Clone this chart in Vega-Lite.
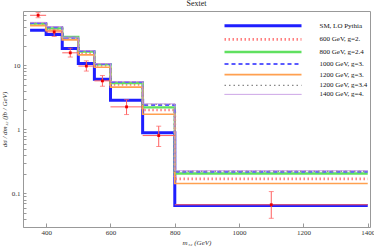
{
  "$schema": "https://vega.github.io/schema/vega-lite/v6.json",
  "autosize": {"type": "none"},
  "width": 347,
  "height": 216,
  "padding": {"left": 23, "top": 11, "right": 4, "bottom": 23},
  "background": "white",
  "title": {"text": "Sextet", "font": "Liberation Serif", "fontSize": 8, "fontWeight": "normal", "anchor": "middle", "offset": 3, "color": "#222"},
  "config": {
    "view": {"stroke": "#999", "strokeWidth": 1},
    "axis": {"domain": false, "grid": false, "labelFont": "Liberation Serif", "labelFontSize": 7, "labelColor": "#333", "titleFont": "Liberation Serif", "titleFontSize": 7, "titleFontWeight": "normal", "titleColor": "#333", "tickColor": "#999"}
  },
  "datasets": {
    "curves": [
      {"series": "SM, LO Pythia", "m": 350, "v": 35.2}, {"series": "SM, LO Pythia", "m": 400, "v": 30.2}, {"series": "SM, LO Pythia", "m": 450, "v": 18.2}, {"series": "SM, LO Pythia", "m": 500, "v": 10.6}, {"series": "SM, LO Pythia", "m": 550, "v": 6.05}, {"series": "SM, LO Pythia", "m": 600, "v": 2.84}, {"series": "SM, LO Pythia", "m": 700, "v": 0.887}, {"series": "SM, LO Pythia", "m": 800, "v": 0.065}, {"series": "SM, LO Pythia", "m": 1400, "v": 0.065},
      {"series": "600 GeV, g=2.", "m": 350, "v": 43.5}, {"series": "600 GeV, g=2.", "m": 400, "v": 36.5}, {"series": "600 GeV, g=2.", "m": 450, "v": 26}, {"series": "600 GeV, g=2.", "m": 500, "v": 15.5}, {"series": "600 GeV, g=2.", "m": 550, "v": 9.9}, {"series": "600 GeV, g=2.", "m": 600, "v": 5.0}, {"series": "600 GeV, g=2.", "m": 700, "v": 2.0}, {"series": "600 GeV, g=2.", "m": 800, "v": 0.169}, {"series": "600 GeV, g=2.", "m": 1400, "v": 0.169},
      {"series": "800 GeV, g=2.4", "m": 350, "v": 44.5}, {"series": "800 GeV, g=2.4", "m": 400, "v": 37.5}, {"series": "800 GeV, g=2.4", "m": 450, "v": 27.5}, {"series": "800 GeV, g=2.4", "m": 500, "v": 16.3}, {"series": "800 GeV, g=2.4", "m": 550, "v": 10.3}, {"series": "800 GeV, g=2.4", "m": 600, "v": 5.25}, {"series": "800 GeV, g=2.4", "m": 700, "v": 2.2}, {"series": "800 GeV, g=2.4", "m": 800, "v": 0.205}, {"series": "800 GeV, g=2.4", "m": 1400, "v": 0.205},
      {"series": "1000 GeV, g=3.", "m": 350, "v": 45.5}, {"series": "1000 GeV, g=3.", "m": 400, "v": 39}, {"series": "1000 GeV, g=3.", "m": 450, "v": 26.8}, {"series": "1000 GeV, g=3.", "m": 500, "v": 16.6}, {"series": "1000 GeV, g=3.", "m": 550, "v": 10.4}, {"series": "1000 GeV, g=3.", "m": 600, "v": 5.45}, {"series": "1000 GeV, g=3.", "m": 700, "v": 2.4}, {"series": "1000 GeV, g=3.", "m": 800, "v": 0.218}, {"series": "1000 GeV, g=3.", "m": 1400, "v": 0.218},
      {"series": "1200 GeV, g=3.", "m": 350, "v": 41.5}, {"series": "1200 GeV, g=3.", "m": 400, "v": 34.5}, {"series": "1200 GeV, g=3.", "m": 450, "v": 24.8}, {"series": "1200 GeV, g=3.", "m": 500, "v": 14.5}, {"series": "1200 GeV, g=3.", "m": 550, "v": 9.3}, {"series": "1200 GeV, g=3.", "m": 600, "v": 4.55}, {"series": "1200 GeV, g=3.", "m": 700, "v": 1.72}, {"series": "1200 GeV, g=3.", "m": 800, "v": 0.143}, {"series": "1200 GeV, g=3.", "m": 1400, "v": 0.143},
      {"series": "1200 GeV, g=3.4", "m": 350, "v": 46}, {"series": "1200 GeV, g=3.4", "m": 400, "v": 39.5}, {"series": "1200 GeV, g=3.4", "m": 450, "v": 27}, {"series": "1200 GeV, g=3.4", "m": 500, "v": 16.7}, {"series": "1200 GeV, g=3.4", "m": 550, "v": 10.5}, {"series": "1200 GeV, g=3.4", "m": 600, "v": 5.5}, {"series": "1200 GeV, g=3.4", "m": 700, "v": 2.45}, {"series": "1200 GeV, g=3.4", "m": 800, "v": 0.222}, {"series": "1200 GeV, g=3.4", "m": 1400, "v": 0.222},
      {"series": "1400 GeV, g=4.", "m": 350, "v": 46.5}, {"series": "1400 GeV, g=4.", "m": 400, "v": 40}, {"series": "1400 GeV, g=4.", "m": 450, "v": 27.3}, {"series": "1400 GeV, g=4.", "m": 500, "v": 16.9}, {"series": "1400 GeV, g=4.", "m": 550, "v": 10.6}, {"series": "1400 GeV, g=4.", "m": 600, "v": 5.55}, {"series": "1400 GeV, g=4.", "m": 700, "v": 2.5}, {"series": "1400 GeV, g=4.", "m": 800, "v": 0.226}, {"series": "1400 GeV, g=4.", "m": 1400, "v": 0.226}
    ],
    "points": [
      {"m": 375, "lo": 350, "hi": 400, "v": 60, "vlo": 55, "vhi": 66},
      {"m": 425, "lo": 400, "hi": 450, "v": 33, "vlo": 28, "vhi": 35.5},
      {"m": 475, "lo": 450, "hi": 500, "v": 15.6, "vlo": 13.4, "vhi": 18.4},
      {"m": 525, "lo": 500, "hi": 550, "v": 9.7, "vlo": 8.1, "vhi": 11.7},
      {"m": 575, "lo": 550, "hi": 600, "v": 5.7, "vlo": 4.7, "vhi": 6.9},
      {"m": 650, "lo": 600, "hi": 700, "v": 2.24, "vlo": 1.7, "vhi": 2.9},
      {"m": 750, "lo": 700, "hi": 800, "v": 0.8, "vlo": 0.54, "vhi": 1.12},
      {"m": 1100, "lo": 800, "hi": 1400, "v": 0.0667, "vlo": 0.041, "vhi": 0.107}
    ]
  },
  "layer": [
    {
      "data": {"name": "curves"},
      "mark": {"type": "line", "interpolate": "step-after", "clip": true},
      "encoding": {
        "x": {"field": "m", "type": "quantitative", "scale": {"domain": [328, 1407], "nice": false, "zero": false},
              "axis": {"orient": "bottom", "values": [400,600,800,1000,1200,1400],
                       "labelOverlap": false, "labelFlush": false, "labelBound": false,
                       "format": "d",
                       "tickSize": -4,
                       "labelPadding": 5, "title": "m₁₂ (GeV)", "titleFontStyle": "italic", "titlePadding": 3}},
        "y": {"field": "v", "type": "quantitative", "scale": {"type": "log", "domain": [0.03, 70], "nice": false},
              "axis": {"orient": "left", "values": [0.03,0.04,0.05,0.06,0.07,0.08,0.09,0.1,0.2,0.3,0.4,0.5,0.6,0.7,0.8,0.9,1,2,3,4,5,6,7,8,9,10,20,30,40,50,60],
                       "labelOverlap": false, "labelFlush": false, "labelBound": false,
                       "labelExpr": "datum.value == 0.1 ? '0.1' : datum.value == 1 ? '1' : datum.value == 10 ? '10' : ''",
                       "tickSize": -3,
                       "labelPadding": 6, "title": "dσ / dm₁₂ (fb / GeV)", "titleFontStyle": "italic", "titlePadding": 4}},
        "color": {"field": "series", "type": "nominal",
                  "scale": {"domain": ["SM, LO Pythia", "600 GeV, g=2.", "800 GeV, g=2.4", "1000 GeV, g=3.", "1200 GeV, g=3.", "1200 GeV, g=3.4", "1400 GeV, g=4."],
                            "range": ["#1f1fff", "#ff8080", "#60e060", "#5a5aff", "#ffa050", "#888888", "#c090e0"]},
                  "legend": {"orient": "none", "legendX": 233.5, "legendY": 8.3, "padding": 0, "title": null, "symbolType": "M-7.7,0L7.7,0", "symbolSize": 100, "labelFont": "Liberation Serif", "labelFontSize": 7, "labelColor": "#111", "labelOffset": 50, "rowPadding": 0.6}},
        "strokeDash": {"field": "series", "type": "nominal",
                  "scale": {"domain": ["SM, LO Pythia", "600 GeV, g=2.", "800 GeV, g=2.4", "1000 GeV, g=3.", "1200 GeV, g=3.", "1200 GeV, g=3.4", "1400 GeV, g=4."],
                            "range": [[1,0], [1.5,2.5], [1,0], [4,3], [1,0], [1.5,3], [1,0]]}},
        "strokeWidth": {"field": "series", "type": "ordinal",
                  "scale": {"domain": ["SM, LO Pythia", "600 GeV, g=2.", "800 GeV, g=2.4", "1000 GeV, g=3.", "1200 GeV, g=3.", "1200 GeV, g=3.4", "1400 GeV, g=4."],
                            "range": [3, 1, 2.5, 1.3, 1.8, 1, 2]}}
      }
    },
    {
      "data": {"name": "points"},
      "mark": {"type": "rule", "color": "#ff6060", "strokeWidth": 1},
      "encoding": {
        "x": {"field": "lo", "type": "quantitative"},
        "x2": {"field": "hi"},
        "y": {"field": "v", "type": "quantitative"}
      }
    },
    {
      "data": {"name": "points"},
      "mark": {"type": "rule", "color": "#ff6060", "strokeWidth": 1},
      "encoding": {
        "x": {"field": "m", "type": "quantitative"},
        "y": {"field": "vlo", "type": "quantitative"},
        "y2": {"field": "vhi"}
      }
    },
    {
      "data": {"name": "points"},
      "mark": {"type": "tick", "color": "#ff6060", "orient": "horizontal", "size": 5, "thickness": 1},
      "encoding": {
        "x": {"field": "m", "type": "quantitative"},
        "y": {"field": "vlo", "type": "quantitative"}
      }
    },
    {
      "data": {"name": "points"},
      "mark": {"type": "tick", "color": "#ff6060", "orient": "horizontal", "size": 5, "thickness": 1},
      "encoding": {
        "x": {"field": "m", "type": "quantitative"},
        "y": {"field": "vhi", "type": "quantitative"}
      }
    },
    {
      "data": {"name": "points"},
      "mark": {"type": "square", "color": "#ee0000", "filled": true, "size": 8, "opacity": 1},
      "encoding": {
        "x": {"field": "m", "type": "quantitative"},
        "y": {"field": "v", "type": "quantitative"}
      }
    }
  ]
}
